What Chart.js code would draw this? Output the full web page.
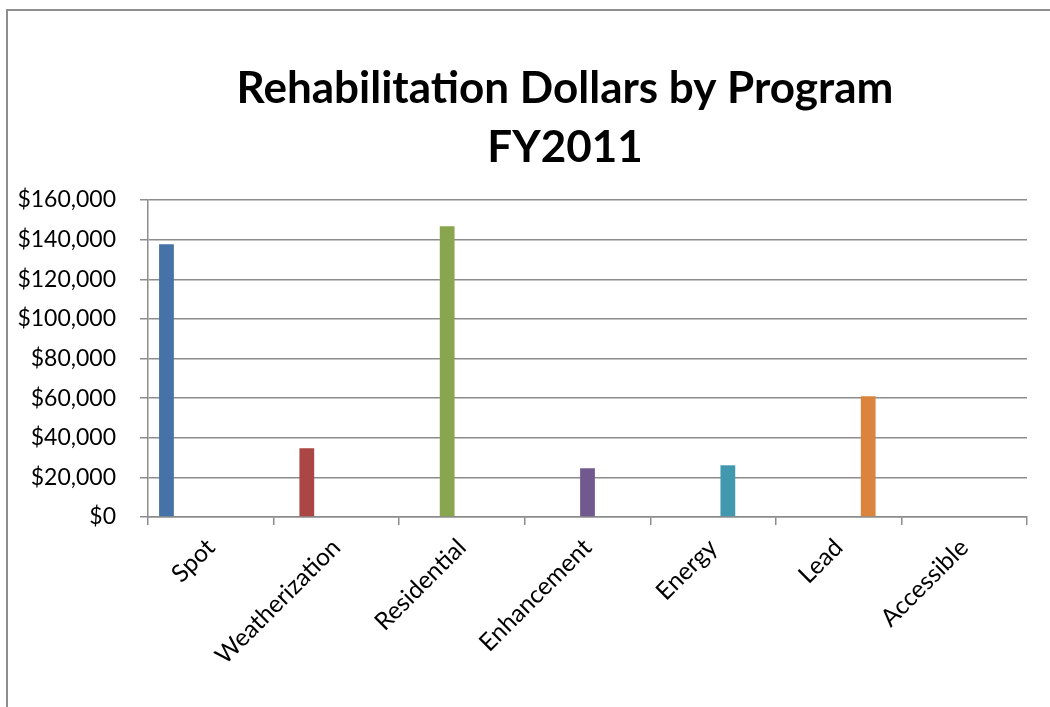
<!DOCTYPE html>
<html>
<head>
<meta charset="utf-8">
<script src="https://cdn.jsdelivr.net/npm/chart.js@4.4.0/dist/chart.umd.min.js"></script>
<style>
  html, body { margin: 0; padding: 0; background: #fff; }
  #wrap { position: relative; width: 1050px; height: 707px; overflow: hidden; }
  #frame { position: absolute; left: 6px; top: 9px; width: 1100px; height: 800px;
           border-left: 2px solid #8e8e8e; border-top: 2px solid #8e8e8e; }
  canvas { position: absolute; left: 0; top: 0; }
</style>
</head>
<body>
<div id="wrap">
  <div id="frame"></div>
  <canvas id="chart" width="1050" height="707"></canvas>
</div>
<script>
const categories = ['Spot', 'Weatherization', 'Residential', 'Enhancement', 'Energy', 'Lead', 'Accessible'];
const dollars = [137700, 34700, 146800, 24600, 26100, 61000, 0];
const barColors = ['#4572A7', '#AA4643', '#89A54E', '#71588F', '#4198AF', '#DB843D', '#93A9CF'];
const yTicks = [0, 20000, 40000, 60000, 80000, 100000, 120000, 140000, 160000];
const chartTitle = ['Rehabilitation Dollars by Program', 'FY2011'];

document.addEventListener('DOMContentLoaded', () => {
    const font = 'Lato';
    const gridColor = '#8c8c8c';

    // Excel style: one series per program, so each bar sits in its own slot
    const datasets = categories.map((name, i) => ({
        label: name,
        data: categories.map((_, j) => (j === i ? dollars[i] : null)),
        backgroundColor: barColors[i],
        borderWidth: 0
    }));

    // the original chart is wider than the crop, so its title sits right of centre
    const titlePlugin = {
        id: 'excelTitle',
        afterDraw(chart) {
            const c = chart.ctx;
            c.save();
            c.fillStyle = '#000';
            c.font = 'bold 44px ' + font;
            c.textAlign = 'center';
            c.textBaseline = 'alphabetic';
            c.fillText(chartTitle[0], 565, 103);
            c.fillText(chartTitle[1], 565, 162);
            c.restore();
        }
    };

    const ctx = document.getElementById('chart').getContext('2d');
    new Chart(ctx, {
        type: 'bar',
        data: { labels: categories, datasets: datasets },
        plugins: [titlePlugin],
        options: {
            responsive: false,
            animation: false,
            categoryPercentage: 7 / 8.5,
            barPercentage: 1,
            layout: { padding: { top: 200, right: 23, bottom: 0, left: 0 } },
            plugins: {
                legend: { display: false },
                tooltip: { enabled: false },
                title: { display: false }
            },
            scales: {
                x: {
                    afterFit: (scale) => { scale.height = 190; },
                    grid: { drawOnChartArea: false, drawTicks: true, tickLength: 8, color: gridColor, lineWidth: 1.5 },
                    border: { color: gridColor, width: 1.5 },
                    ticks: {
                        autoSkip: false,
                        minRotation: 45,
                        maxRotation: 45,
                        padding: 8,
                        color: '#000',
                        font: { family: font, size: 24.5 }
                    }
                },
                y: {
                    min: 0,
                    max: 160000,
                    afterFit: (scale) => { scale.width = 148; },
                    afterBuildTicks: (scale) => { scale.ticks = yTicks.map(v => ({ value: v })); },
                    grid: { color: gridColor, lineWidth: 1.5, tickLength: 8 },
                    border: { color: gridColor, width: 1.5 },
                    ticks: {
                        padding: 24,
                        color: '#000',
                        font: { family: font, size: 23 },
                        callback: (v) => '$' + v.toLocaleString('en-US')
                    }
                }
            }
        }
    });
});
</script>
</body>
</html>
